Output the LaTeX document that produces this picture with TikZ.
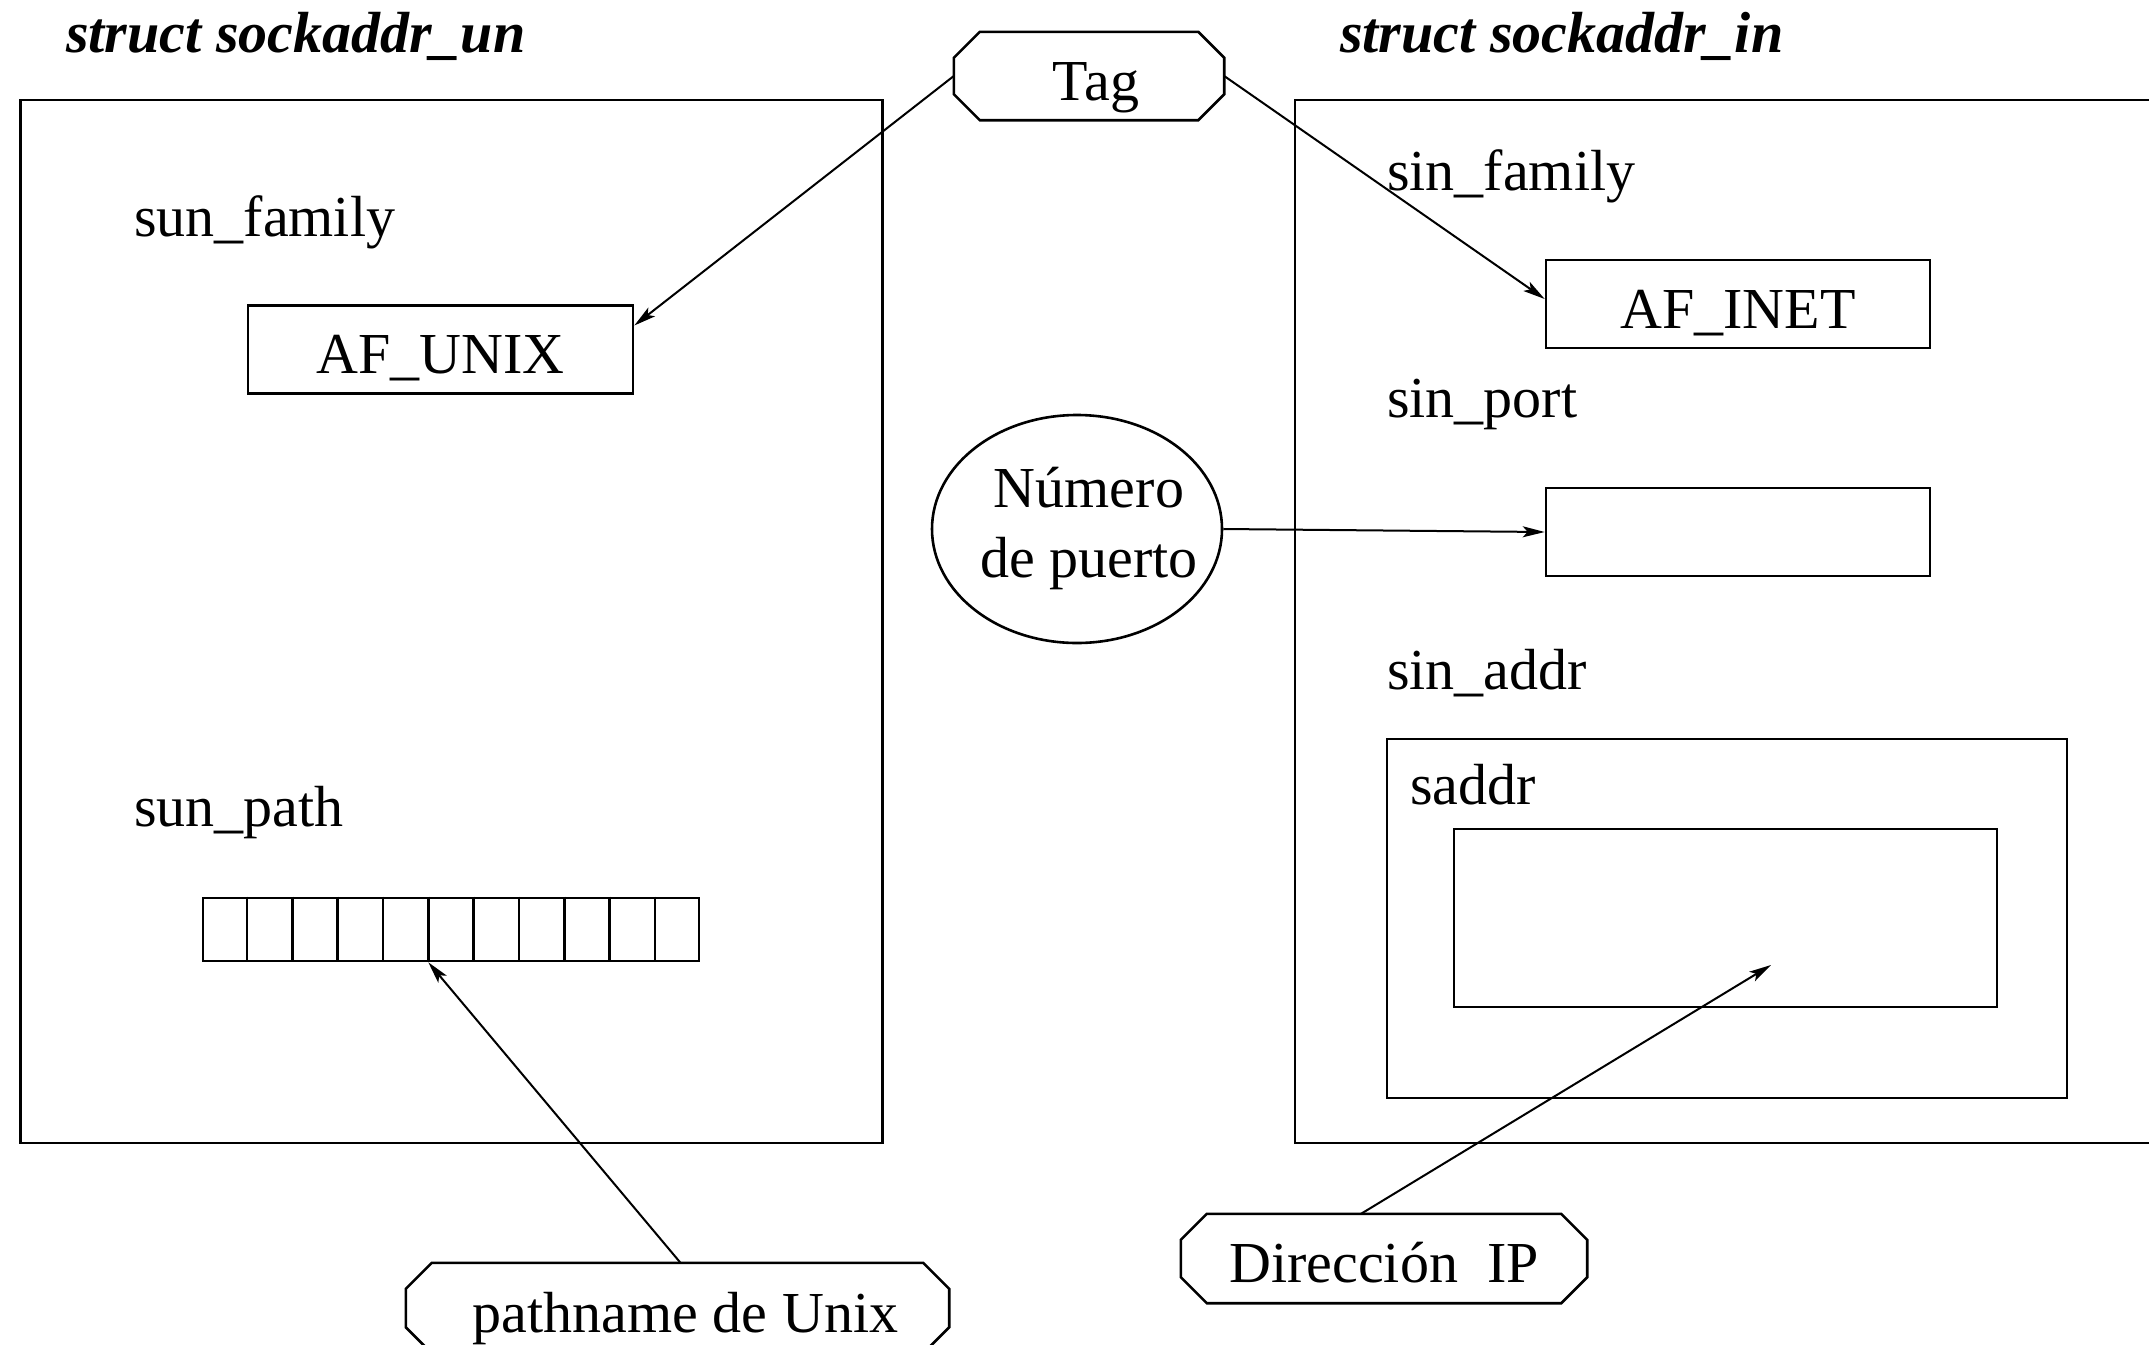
\documentclass[tikz,border=0pt]{standalone}
\usepackage{fontspec}
\setmainfont{Liberation Serif}
\usetikzlibrary{shapes.geometric,arrows.meta,calc}

% Octagonal outline round a named node, chamfer size 26pt
\newcommand\chamferframe[1]{%
  \draw[frame] ([xshift=26pt]#1.north west) -- ([xshift=-26pt]#1.north east)
    -- ([yshift=-26pt]#1.north east) -- ([yshift=26pt]#1.south east)
    -- ([xshift=-26pt]#1.south east) -- ([xshift=26pt]#1.south west)
    -- ([yshift=26pt]#1.south west) -- ([yshift=-26pt]#1.north west) -- cycle;}

\begin{document}
\begin{tikzpicture}[x=1pt,y=-1pt,
  every node/.style={font=\fontsize{58}{70}\selectfont},
  frame/.style={draw, line width=2.6pt},
  field/.style={frame, rectangle, inner sep=0pt, text height=48pt, text depth=0pt},
  lbl/.style={anchor=base west, inner sep=0pt},
  title/.style={lbl, font=\fontsize{58}{70}\selectfont\bfseries\itshape},
  callout/.style={rectangle, inner sep=0pt, text height=48pt, text depth=0pt},
  ptr/.style={line width=2pt, -{Stealth[length=22pt,width=11pt,inset=5pt]}}
]
\useasboundingbox (0,0) rectangle (2149,1344);
\clip (0,0) rectangle (2149,1344);

% ---- struct sockaddr_un ----
\node[title] (titleun) at (66,52) {struct sockaddr\_un};
\node[field, minimum width=862pt, minimum height=1043pt] (boxun) at (451.5,621.5) {};
\node[lbl] (sunfam) at (134,236) {sun\_family};
\node[field, minimum width=385pt, minimum height=88pt] (afunix) at (440.5,349.5) {AF\_UNIX};
\node[lbl] (sunpath) at (134,826) {sun\_path};
\node[field, minimum width=496pt, minimum height=63pt] (arr) at (451,929.5) {};
\foreach \i in {1,...,10}
  \draw[frame] ($(arr.north west)!\i/11!(arr.north east)$) -- ($(arr.south west)!\i/11!(arr.south east)$);
\coordinate (slot) at ($(arr.south west)!5/11!(arr.south east)$);
\node[callout, minimum width=543pt, minimum height=90pt] (pathname) at (677.5,1308) {\hspace*{16pt}pathname de Unix};
\chamferframe{pathname}

% ---- struct sockaddr_in ----
\node[title] (titlein) at (1340,52) {struct sockaddr\_in};
\node[field, minimum width=905pt, minimum height=1043pt] (boxin) at (1747.5,621.5) {};
\node[lbl] (sinfam) at (1387,190) {sin\_family};
\node[field, minimum width=384pt, minimum height=88pt] (afinet) at (1738,304) {AF\_INET};
\node[lbl] (sinport) at (1387,417) {sin\_port};
\node[field, minimum width=384pt, minimum height=88pt] (portbox) at (1738,532) {};
\node[lbl] (sinaddr) at (1387,689) {sin\_addr};
\node[field, minimum width=680pt, minimum height=359pt] (saddrbox) at (1727,918.5) {};
\node[lbl] (saddrlbl) at (1410,804) {saddr};
\node[field, minimum width=543pt, minimum height=178pt] (ipbox) at (1725.5,918) {};
\coordinate (iptarget) at (1771,965);

% ---- callouts in the middle ----
\node[callout, minimum width=270pt, minimum height=88pt] (tag) at (1089,76) {\hspace*{14pt}Tag};
\chamferframe{tag}
\node[ellipse, frame, minimum width=290pt, minimum height=228pt, inner sep=0pt] (puerto) at (1077,529) {};
\node[align=center, inner sep=0pt] (puertolbl) at (1089,529) {Número\\de puerto};
\node[callout, minimum width=406pt, minimum height=89pt] (dirip) at (1384,1258.5) {Dirección\hspace{0.5em}IP};
\chamferframe{dirip}

% ---- pointers ----
\draw[ptr] (tag.west) -- ([yshift=24pt]afunix.east);
\draw[ptr] (tag.east) -- ([yshift=5pt]afinet.west);
\draw[ptr] (puerto.east) -- (portbox.west);
\draw[ptr] ([xshift=-23pt]dirip.north) -- (iptarget);
\draw[ptr] ([xshift=3pt]pathname.north) -- (slot);
\end{tikzpicture}
\end{document}
